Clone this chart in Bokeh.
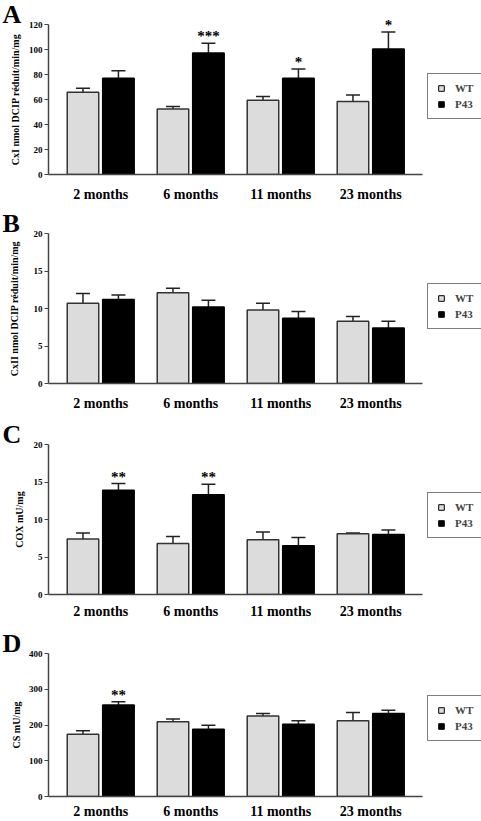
import numpy as np
from bokeh.plotting import figure
from bokeh.models import (ColumnDataSource, Whisker, TeeHead, FixedTicker, Legend,
                          LegendItem, Title, Range1d)
from bokeh.layouts import column
from bokeh.core.properties import value
from bokeh.embed import file_html
from bokeh.resources import INLINE

# ---------------- data ----------------
months = ["2 months", "6 months", "11 months", "23 months"]
groups = ["WT", "P43"]

# Panel A: CxI
a_wt = [65.8, 52.5, 59.5, 58.4]
a_wt_sem = [3.2, 1.9, 2.9, 5.3]
a_p43 = [77.0, 97.3, 77.0, 100.5]
a_p43_sem = [6.0, 7.7, 7.5, 13.5]
a_stars = ["", "***", "*", "*"]
a_ticks = [0, 20, 40, 60, 80, 100, 120]

# Panel B: CxII
b_wt = [10.7, 12.1, 9.8, 8.3]
b_wt_sem = [1.3, 0.6, 0.9, 0.65]
b_p43 = [11.2, 10.2, 8.7, 7.4]
b_p43_sem = [0.6, 0.9, 0.9, 0.9]
b_stars = ["", "", "", ""]
b_ticks = [0, 5, 10, 15, 20]

# Panel C: COX
c_wt = [7.4, 6.8, 7.3, 8.1]
c_wt_sem = [0.8, 0.95, 1.05, 0.1]
c_p43 = [13.9, 13.3, 6.5, 8.0]
c_p43_sem = [0.9, 1.4, 1.1, 0.6]
c_stars = ["**", "**", "", ""]
c_ticks = [0, 5, 10, 15, 20]

# Panel D: CS
d_wt = [174, 209, 225, 212]
d_wt_sem = [10, 8, 7, 23]
d_p43 = [256, 188, 202, 232]
d_p43_sem = [9, 11, 10, 9]
d_stars = ["**", "", "", ""]
d_ticks = [0, 100, 200, 300, 400]

FONT = "Liberation Serif"
LEFT = 48
WIDTH = 481
TOP = 24
X0 = -0.58
PX_PER_UNIT = 90.0
X1 = X0 + (WIDTH - LEFT) / PX_PER_UNIT
OFF = 0.197
BW = 0.35


def make_panel(letter, ylabel, ticks, wt, wt_sem, p43, p43_sem, stars,
               frame_h, bottom, label_standoff, x_standoff, legend_y):
    h = TOP + frame_h + bottom
    p = figure(width=WIDTH, height=h, output_backend="svg", toolbar_location=None,
               x_range=Range1d(X0, X1), y_range=Range1d(0, ticks[-1]),
               min_border_left=LEFT, min_border_right=0,
               min_border_top=TOP, min_border_bottom=bottom)
    p.title.visible = False
    p.outline_line_color = None
    p.xgrid.visible = False
    p.ygrid.visible = False
    p.background_fill_color = "white"
    p.border_fill_color = "white"

    idx = np.arange(len(months))
    wt_src = ColumnDataSource(dict(x=idx - OFF, top=wt,
                                   up=np.array(wt) + np.array(wt_sem)))
    p43_src = ColumnDataSource(dict(x=idx + OFF, top=p43,
                                    up=np.array(p43) + np.array(p43_sem),
                                    star=stars))
    p.vbar(x="x", top="top", width=BW, source=wt_src, fill_color="#dcdcdc",
           line_color="#333333", line_width=1.5)
    p.vbar(x="x", top="top", width=BW, source=p43_src, fill_color="black",
           line_color="black", line_width=1.5)
    for src in (wt_src, p43_src):
        p.add_layout(Whisker(base="x", lower="top", upper="up", source=src,
                             line_color="#222222", line_width=1.5,
                             upper_head=TeeHead(size=14, line_color="#222222", line_width=1.5),
                             lower_head=None))
    p.text(x="x", y="up", text="star", source=p43_src,
           text_font=value(FONT), text_font_style="bold", text_font_size="15px",
           text_align="center", text_baseline="alphabetic", text_color="black",
           y_offset=-7, level="overlay")

    # legend (markers only, no visible data points)
    r_wt = p.scatter(x=[np.nan], y=[np.nan], marker="square", fill_color="#dcdcdc",
                     line_color="black", line_width=1)
    r_p43 = p.scatter(x=[np.nan], y=[np.nan], marker="square", fill_color="black",
                      line_color="black", line_width=1)
    leg = Legend(items=[LegendItem(label=groups[0], renderers=[r_wt]),
                        LegendItem(label=groups[1], renderers=[r_p43])],
                 location=(379, legend_y), padding=6, spacing=0, margin=0,
                 glyph_width=14, glyph_height=16, label_height=16,
                 label_standoff=7, label_text_font=FONT,
                 label_text_font_style="bold", label_text_font_size="11px",
                 border_line_color="black", border_line_width=1,
                 background_fill_color="white", background_fill_alpha=1.0)
    p.add_layout(leg)

    # axes
    xa = p.xaxis[0]
    xa.ticker = FixedTicker(ticks=list(range(len(months))))
    xa.major_label_overrides = {i: m for i, m in enumerate(months)}
    xa.major_tick_line_color = None
    xa.minor_tick_line_color = None
    xa.bounds = (X0, 3.58)
    xa.axis_line_color = "#444444"
    xa.axis_line_width = 1.5
    xa.major_label_standoff = x_standoff
    xa.major_label_text_font = FONT
    xa.major_label_text_font_style = "bold"
    xa.major_label_text_font_size = "14px"
    xa.major_label_text_color = "black"

    ya = p.yaxis[0]
    ya.ticker = FixedTicker(ticks=ticks)
    ya.minor_tick_line_color = None
    ya.major_tick_out = 4
    ya.major_tick_in = 0
    ya.major_tick_line_color = "#444444"
    ya.axis_line_color = "#444444"
    ya.axis_line_width = 1.5
    ya.major_label_standoff = 2
    ya.major_label_text_font = FONT
    ya.major_label_text_font_style = "bold"
    ya.major_label_text_font_size = "9px"
    ya.major_label_text_color = "black"
    ya.axis_label = ylabel
    ya.axis_label_text_font = FONT
    ya.axis_label_text_font_style = "bold"
    ya.axis_label_text_font_size = "10px"
    ya.axis_label_text_color = "black"
    ya.axis_label_standoff = label_standoff

    p.add_layout(Title(text=letter, align="left", offset=-46, standoff=-8,
                       text_font=FONT, text_font_style="bold",
                       text_font_size="26px", text_color="black"), "above")
    return p


pa = make_panel("A", "CxI nmol DCIP réduit/min/mg", a_ticks, a_wt, a_wt_sem,
                a_p43, a_p43_sem, a_stars, 150, 35, 5, 6, 55)
pb = make_panel("B", "CxII nmol DCIP réduit/min/mg", b_ticks, b_wt, b_wt_sem,
                b_p43, b_p43_sem, b_stars, 150, 37, 11, 6, 54)
pc = make_panel("C", "COX mU/mg", c_ticks, c_wt, c_wt_sem,
                c_p43, c_p43_sem, c_stars, 150, 35, 6, 3, 56)
pd = make_panel("D", "CS mU/mg", d_ticks, d_wt, d_wt_sem,
                d_p43, d_p43_sem, d_stars, 149, 19, 4, 1, 55)

layout = column(pa, pb, pc, pd, spacing=0)
open("out.html", "w").write(file_html(layout, INLINE))
